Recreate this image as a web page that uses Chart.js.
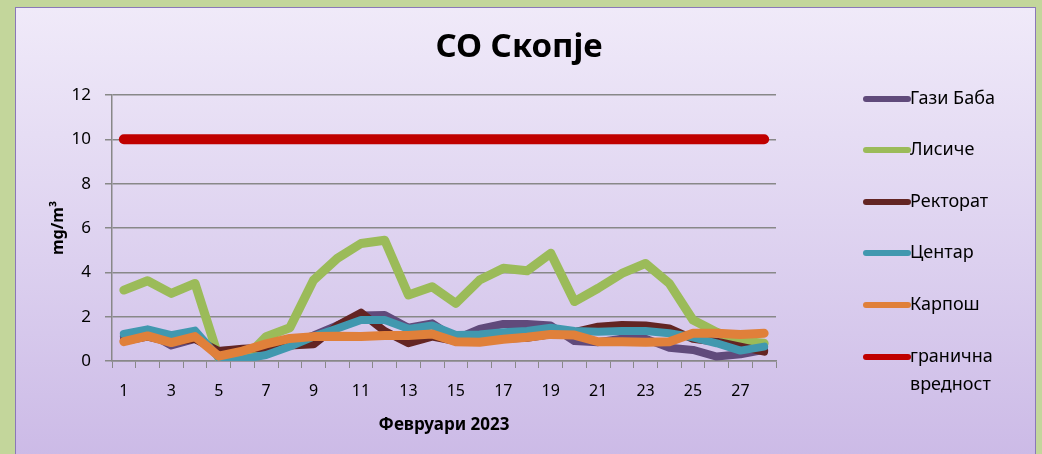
<!DOCTYPE html>
<html>
<head>
<meta charset="utf-8">
<script src="https://cdn.jsdelivr.net/npm/chart.js@4.4.1/dist/chart.umd.min.js"></script>
<style>
  html, body { margin: 0; padding: 0; }
  body { width: 1042px; height: 454px; background: #c3d69b; overflow: hidden; position: relative; }
  #panel {
    position: absolute; left: 15px; top: 7px; width: 1019px; height: 460px;
    border: 1px solid #8a78b8;
    background: linear-gradient(to bottom, #f0eaf9 0%, #dcd0ef 55%, #cbb9e6 100%);
  }
  #chart { position: absolute; left: 0; top: 0; }
</style>
</head>
<body>
<div id="panel"></div>
<canvas id="chart" width="1042" height="454"></canvas>
<script>
// CO Скопје, февруари 2023

const days = [];
for (let d = 1; d <= 28; d++) days.push(String(d));

const gaziBaba = [1.1, 1.3, 0.7, 1.0, 0.45, 0.5, 0.6, 0.8, 1.15, 1.6, 2.05, 2.07, 1.5, 1.7, 1.0, 1.45, 1.67, 1.67, 1.6, 0.9, 0.85, 1.0, 1.0, 0.6, 0.5, 0.2, 0.3, 0.5];
const lisice = [3.2, 3.62, 3.05, 3.5, 0.15, 0.0, 1.1, 1.5, 3.65, 4.63, 5.3, 5.45, 2.98, 3.35, 2.6, 3.65, 4.18, 4.07, 4.86, 2.68, 3.28, 3.95, 4.4, 3.5, 1.85, 1.3, 0.9, 0.8];
const rektorat = [0.9, 1.1, 0.85, 1.0, 0.45, 0.55, 0.6, 0.7, 0.75, 1.6, 2.18, 1.35, 0.8, 1.1, 0.9, 0.9, 1.0, 1.05, 1.2, 1.3, 1.55, 1.62, 1.6, 1.47, 1.0, 0.87, 0.65, 0.42];
const centar = [1.22, 1.43, 1.17, 1.37, 0.15, 0.08, 0.27, 0.65, 1.1, 1.47, 1.85, 1.85, 1.45, 1.6, 1.17, 1.2, 1.3, 1.35, 1.5, 1.35, 1.32, 1.35, 1.35, 1.25, 1.07, 0.8, 0.47, 0.65];
const karpos = [0.87, 1.13, 0.83, 1.1, 0.22, 0.45, 0.77, 1.02, 1.1, 1.12, 1.1, 1.15, 1.15, 1.22, 0.87, 0.85, 0.98, 1.07, 1.2, 1.17, 0.87, 0.87, 0.85, 0.87, 1.25, 1.25, 1.2, 1.25];
const granicna = days.map(() => 10);

const yTicks = [0, 2, 4, 6, 8, 10, 12];

const chartTitle = 'CO Скопје';

const fontFam = '"Comic Sans MS", "Noto Sans", "DejaVu Sans", sans-serif';

function series(label, data, color, width, order) {
    return {
        label: label,
        data: data,
        borderColor: color,
        backgroundColor: color,
        borderWidth: width,
        pointRadius: 0,
        borderCapStyle: 'round',
        borderJoinStyle: 'round',
        tension: 0,
        order: order
    };
}

// title centred on the whole panel, legend on the right
const sideLegend = {
    id: 'sideLegend',
    afterDraw(chart) {
        const ctx = chart.ctx;
        ctx.save();
        ctx.fillStyle = '#000';
        ctx.font = 'bold 33px ' + fontFam;
        ctx.textAlign = 'center';
        ctx.textBaseline = 'middle';
        ctx.fillText(chartTitle, 519, 48);

        const x0 = 866, x1 = 908;
        const rows = [99, 150, 202, 253, 305, 357];
        ctx.font = '18px ' + fontFam;
        ctx.textAlign = 'left';
        chart.data.datasets.forEach((ds, i) => {
            const y = rows[i];
            ctx.strokeStyle = ds.borderColor;
            ctx.lineWidth = 6;
            ctx.lineCap = 'round';
            ctx.beginPath();
            ctx.moveTo(x0, y);
            ctx.lineTo(x1, y);
            ctx.stroke();
            ctx.fillStyle = '#000';
            const words = ds.label.split(' ');
            if (ctx.measureText(ds.label).width > 125 && words.length > 1) {
                ctx.fillText(words[0], x1 + 2, y);
                ctx.fillText(words.slice(1).join(' '), x1 + 2, y + 28);
            } else {
                ctx.fillText(ds.label, x1 + 2, y);
            }
        });
        ctx.restore();
    }
};

const ctx = document.getElementById('chart').getContext('2d');
const chart = new Chart(ctx, {
    type: 'line',
    data: {
        labels: days,
        datasets: [
            series('Гази Баба', gaziBaba, '#604a7b', 8, 6),
            series('Лисиче', lisice, '#9bbb59', 9, 5),
            series('Ректорат', rektorat, '#632523', 8, 4),
            series('Центар', centar, '#4198af', 8, 3),
            series('Карпош', karpos, '#e0803a', 9, 2),
            series('гранична вредност', granicna, '#c00000', 10, 1)
        ]
    },
    options: {
        responsive: false,
        animation: false,
        layout: { padding: { left: 30, right: 266, top: 95, bottom: 0 } },
        plugins: {
            legend: { display: false },
            tooltip: { enabled: false },
            title: { display: false }
        },
        scales: {
            x: {
                offset: true,
                afterFit: function (axis) { axis.height = 93; },
                grid: { offset: true, drawOnChartArea: false, drawTicks: true, tickLength: 7, color: '#888' },
                border: { color: '#888', width: 1.5 },
                ticks: {
                    autoSkip: false,
                    maxRotation: 0,
                    padding: 14,
                    color: '#000',
                    font: { family: fontFam, size: 16 },
                    callback: function (v, i) { return i % 2 === 0 ? days[i] : ''; }
                },
                title: {
                    display: true,
                    text: 'Февруари 2023',
                    color: '#000',
                    font: { family: fontFam, size: 17, weight: 'bold' },
                    padding: { top: 0, bottom: 19 }
                }
            },
            y: {
                min: yTicks[0],
                max: yTicks[yTicks.length - 1],
                afterFit: function (axis) { axis.width = 82; },
                afterBuildTicks: function (axis) { axis.ticks = yTicks.map(v => ({ value: v })); },
                grid: { color: '#888', lineWidth: 1.5, tickLength: 7 },
                border: { color: '#888', width: 1.5 },
                ticks: {
                    padding: 14,
                    color: '#000',
                    font: { family: fontFam, size: 17 }
                },
                title: {
                    display: true,
                    text: 'mg/m³',
                    color: '#000',
                    font: { family: fontFam, size: 16, weight: 'bold' },
                    padding: { top: 19, bottom: 3 }
                }
            }
        }
    },
    plugins: [sideLegend]
});
</script>
</body>
</html>
